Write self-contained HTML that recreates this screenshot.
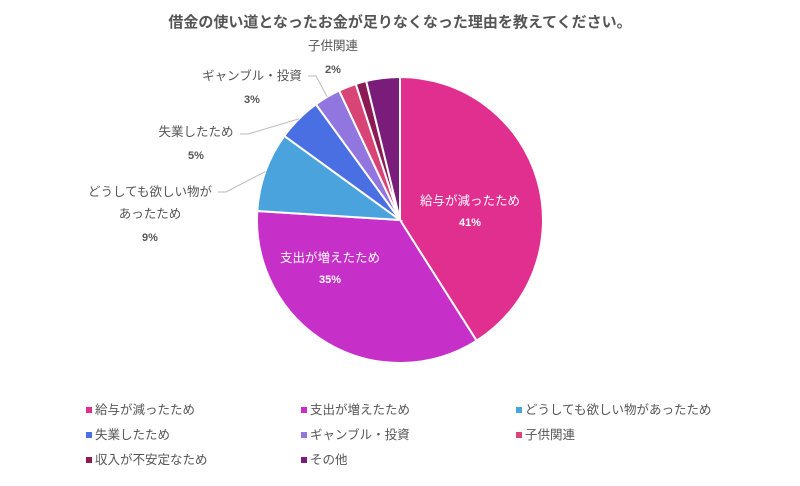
<!DOCTYPE html>
<html><head><meta charset="utf-8"><style>
body{margin:0;background:#fff;font-family:"Liberation Sans","Noto Sans CJK JP",sans-serif;}
svg text{font-family:"Liberation Sans","Noto Sans CJK JP",sans-serif;}
</style></head><body>
<svg id="c" width="800" height="481">
<text x="400" y="27" text-anchor="middle" font-size="15" font-weight="bold" fill="#555">借金の使い道となったお金が足りなくなった理由を教えてください。</text>
<g id="slices"></g><g id="labels"></g><g id="legend"></g>
</svg>
<script>
const categories=["給与が減ったため","支出が増えたため","どうしても欲しい物があったため","失業したため","ギャンブル・投資","子供関連","収入が不安定なため","その他"];
const values=[41,35,9,5,3,2,1.2,3.8];
const printed=["41%","35%","9%","5%","3%","2%","",""];
const colors=["#e12f8f","#c62fc8","#4aa3dc","#4a6fe3","#9176e0","#d94477","#8b1a55","#7a1c7a"];
const NS="http://www.w3.org/2000/svg";
const cx=400,cy=220,r=143;
// label layout (positions only)
const layout={
 0:{x:470,y:205,inside:true},
 1:{x:330,y:262,inside:true},
 2:{x:150,y:196,lines:["どうしても欲しい物が","あったため"],lx:218,ly:192},
 3:{x:196,y:136,lx:240,ly:134},
 4:{x:252,y:80,lx:308,ly:76},
 5:{x:333,y:50}
};
function mk(t,a,p){const e=document.createElementNS(NS,t);for(const k in a)e.setAttribute(k,a[k]);p.appendChild(e);return e;}
function pt(frac,rad){const a=frac*2*Math.PI;return[cx+rad*Math.sin(a),cy-rad*Math.cos(a)];}
const total=values.reduce((s,v)=>s+v,0);
let acc=0;
const S=document.getElementById('slices'),L=document.getElementById('labels'),G=document.getElementById('legend');
values.forEach((v,i)=>{
 const f0=acc/total,f1=(acc+v)/total;acc+=v;
 const [x0,y0]=pt(f0,r),[x1,y1]=pt(f1,r);
 const p=mk('path',{d:`M${cx},${cy}L${x0},${y0}A${r},${r} 0 ${f1-f0>0.5?1:0} 1 ${x1},${y1}Z`,fill:colors[i],stroke:'#fff','stroke-width':2},S);
 
 
 const fm=(f0+f1)/2;
 const lo=layout[i];
 if(!lo||!printed[i])return;
 if(lo.inside){
  const t1=mk('text',{x:lo.x,y:lo.y,'text-anchor':'middle','font-size':12.5,fill:'#fff'},L);t1.textContent=categories[i];
  
  const t2=mk('text',{x:lo.x,y:lo.y+21,'text-anchor':'middle','font-size':11,'font-weight':'bold',fill:'#fff'},L);t2.textContent=printed[i];
  
 } else {
  const [ax,ay]=pt(fm,r);
  if(lo.lx!==undefined){
   const ln=mk('polyline',{points:`${ax},${ay} ${lo.lx+8},${lo.ly} ${lo.lx},${lo.ly}`,fill:'none',stroke:'#bbb','stroke-width':1},L);
   
  }
  const lines=(lo.lines||[categories[i]]).concat([printed[i]]);
  lines.forEach((s,k)=>{const last=k===lines.length-1;
   const t=mk('text',{x:lo.x,y:lo.y+k*22+(last?1:0),'text-anchor':'middle','font-size':last?11:12.5,'font-weight':last?'bold':'normal',fill:'#555'},L);t.textContent=s;
   });
 }
});
categories.forEach((c,i)=>{
 const col=i%3,row=Math.floor(i/3);const x=86+col*215,y=413+row*25;
 const g=mk('g',{},G);
 
 
 mk('rect',{x:x,y:y-6,width:6,height:6,fill:colors[i]},g);
 const t=mk('text',{x:x+9,y:y+1,'font-size':12.5,fill:'#555'},g);t.textContent=c;
});
</script>
</body></html>
